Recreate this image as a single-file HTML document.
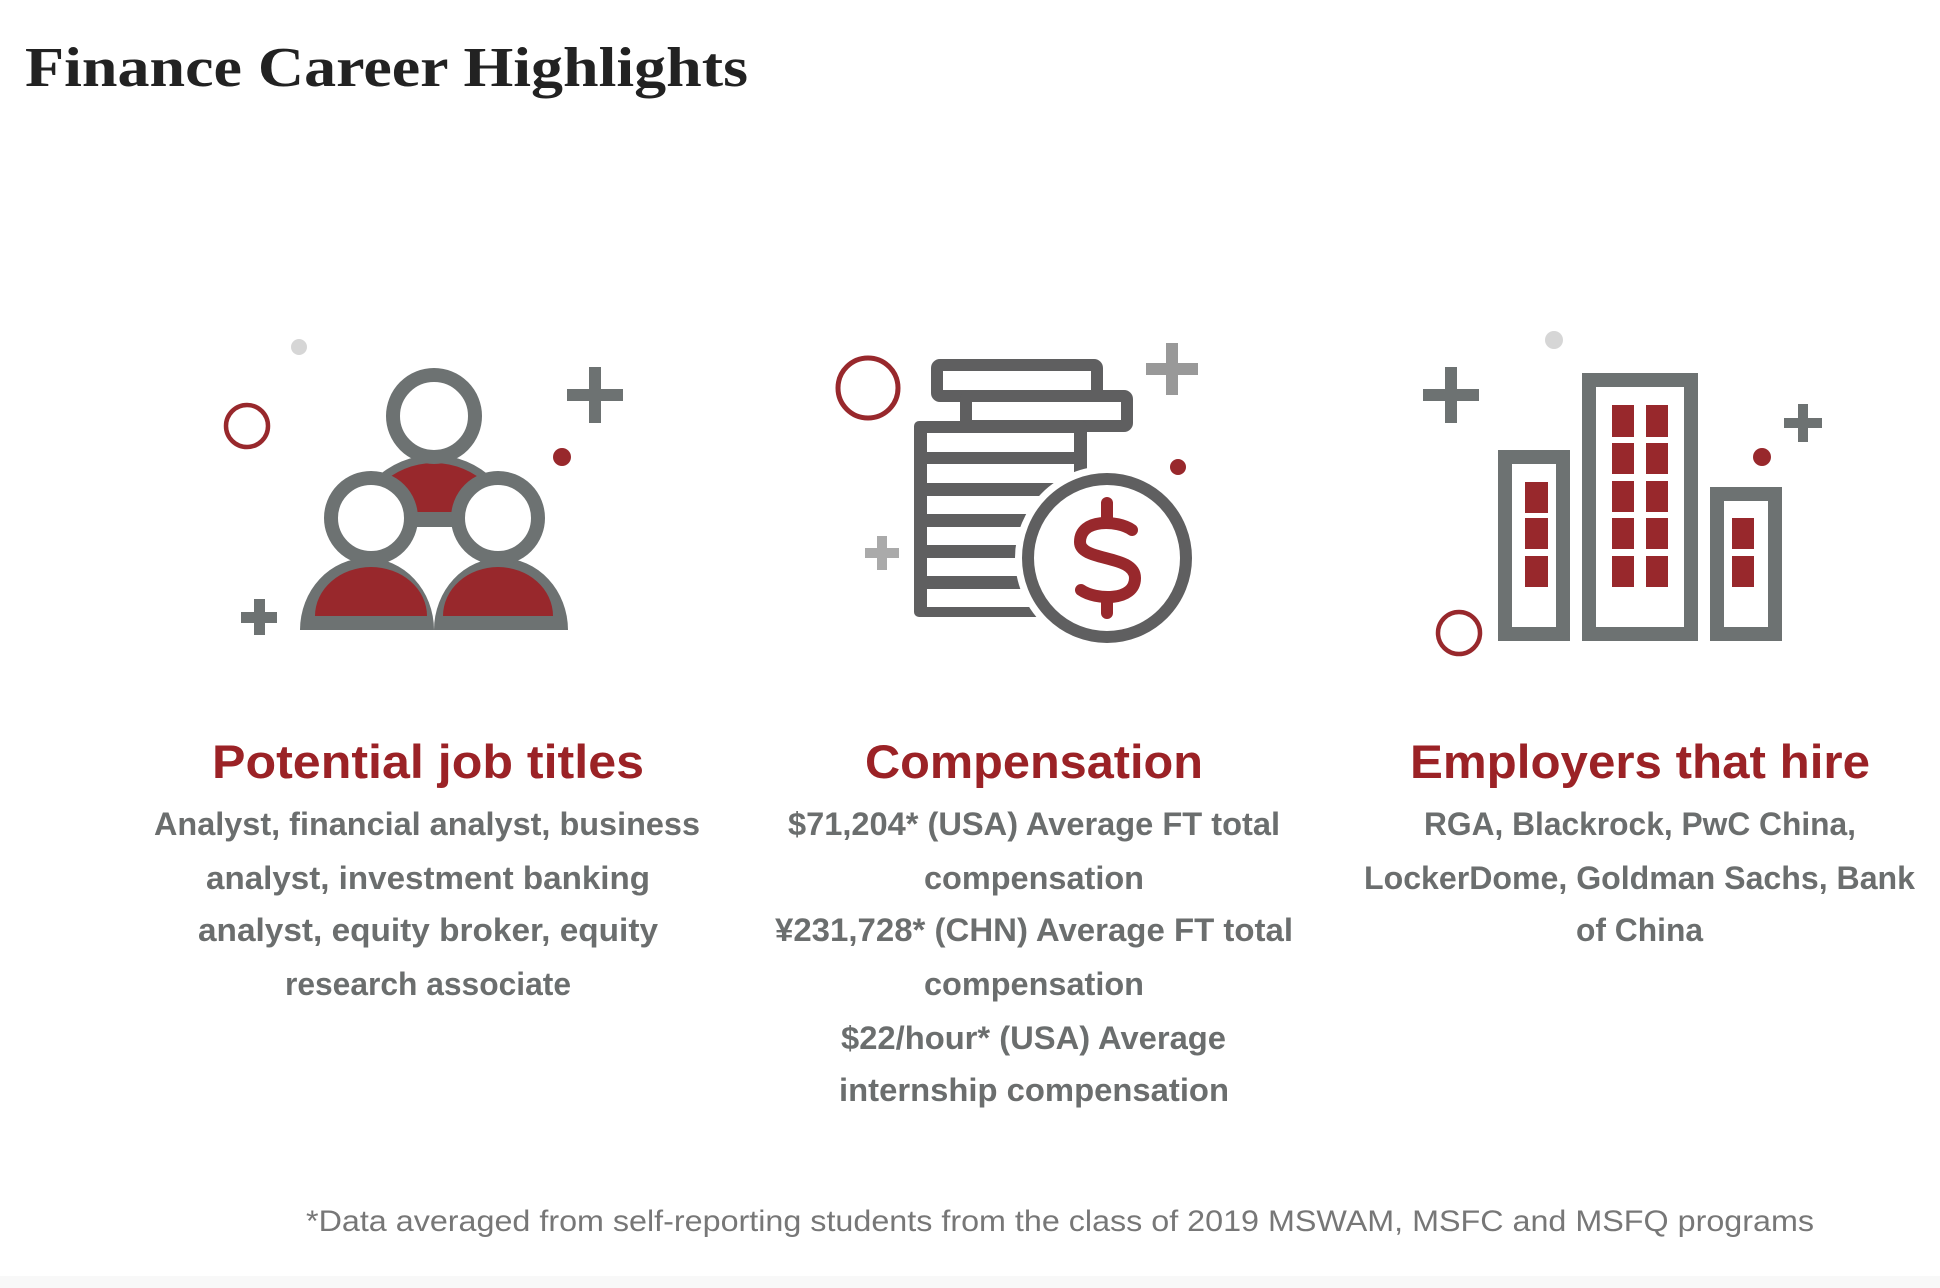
<!DOCTYPE html>
<html><head><meta charset="utf-8"><style>
html,body{margin:0;padding:0;background:#fff;}
svg{display:block;}
</style></head><body>
<svg width="1940" height="1288" viewBox="0 0 1940 1288" xmlns="http://www.w3.org/2000/svg">
<rect x="0" y="0" width="1940" height="1288" fill="#fff"/>
<rect x="0" y="1276" width="1940" height="12" fill="#f8f8f8"/>
<text x="25" y="86" font-family="Liberation Serif, serif" font-weight="bold" font-size="56" fill="#222" textLength="723" lengthAdjust="spacingAndGlyphs">Finance Career Highlights</text>

<!-- Icon 1 -->
<g>
<circle cx="299" cy="347" r="8" fill="#d6d6d6"/>
<circle cx="247" cy="426" r="21" fill="none" stroke="#98282c" stroke-width="4.5"/>
<rect x="567" y="389" width="56" height="12" fill="#6d7272"/><rect x="589" y="367" width="12" height="56" fill="#6d7272"/>
<circle cx="562" cy="457" r="9" fill="#98282c"/>
<rect x="241" y="612" width="36" height="11" fill="#6d7272"/><rect x="254" y="599" width="11" height="36" fill="#6d7272"/>
<!-- middle body -->
<clipPath id="c1"><rect x="300" y="400" width="270" height="127"/></clipPath>
<clipPath id="c2"><rect x="300" y="400" width="270" height="112"/></clipPath>
<circle cx="434" cy="540" r="85" fill="#6d7272" clip-path="url(#c1)"/>
<circle cx="434" cy="540" r="77" fill="#98282c" clip-path="url(#c2)"/>
<!-- bottom bodies -->
<path d="M300,630 A67,72 0 0 1 434,630 Z" fill="#6d7272"/>
<path d="M434,630 A67,72 0 0 1 568,630 Z" fill="#6d7272"/>
<path d="M315,616 A56,49 0 0 1 427,616 Z" fill="#98282c"/>
<path d="M443,616 A55,49 0 0 1 553,616 Z" fill="#98282c"/>
<!-- heads -->
<circle cx="434" cy="416" r="41" fill="#fff" stroke="#6d7272" stroke-width="14"/>
<circle cx="371" cy="518" r="40" fill="#fff" stroke="#6d7272" stroke-width="14"/>
<circle cx="498" cy="518" r="40" fill="#fff" stroke="#6d7272" stroke-width="14"/>
</g>

<!-- Icon 2 -->
<g>
<circle cx="868" cy="388" r="30" fill="none" stroke="#98282c" stroke-width="5"/>
<rect x="1146" y="363" width="52" height="12" fill="#999"/><rect x="1166" y="343" width="12" height="52" fill="#999"/>
<circle cx="1178" cy="467" r="8" fill="#98282c"/>
<rect x="865" y="548" width="34" height="10" fill="#aaa"/><rect x="877" y="536" width="10" height="34" fill="#aaa"/>
<rect x="937" y="365" width="160" height="31" rx="3" fill="#fff" stroke="#5f5f60" stroke-width="12"/>
<rect x="966" y="396" width="161" height="30" rx="3" fill="#fff" stroke="#5f5f60" stroke-width="12"/>
<rect x="914" y="421" width="173" height="196" rx="5" fill="#5f5f60"/>
<g fill="#fff">
<rect x="927" y="433" width="147" height="19"/>
<rect x="927" y="464" width="147" height="19"/>
<rect x="927" y="496" width="147" height="18"/>
<rect x="927" y="527" width="147" height="18"/>
<rect x="927" y="558" width="147" height="18"/>
<rect x="927" y="589" width="147" height="18"/>
</g>
<circle cx="1107" cy="558" r="92" fill="#fff"/>
<circle cx="1107" cy="558" r="79" fill="#fff" stroke="#5f5f60" stroke-width="12"/>
<g fill="none" stroke="#98282c" stroke-width="12" stroke-linecap="round">
<line x1="1107" y1="503" x2="1107" y2="519"/>
<line x1="1107" y1="598" x2="1107" y2="613"/>
<path d="M1132,530 C1118,520 1080,518 1080,542 C1080,562 1135,554 1135,578 C1135,602 1095,600 1081,590"/>
</g>
</g>

<!-- Icon 3 -->
<g>
<circle cx="1554" cy="340" r="9" fill="#d6d6d6"/>
<rect x="1423" y="389" width="56" height="12" fill="#6d7272"/><rect x="1445" y="367" width="12" height="56" fill="#6d7272"/>
<rect x="1784" y="418" width="38" height="10" fill="#6d7272"/><rect x="1798" y="404" width="10" height="38" fill="#6d7272"/>
<circle cx="1762" cy="457" r="9" fill="#98282c"/>
<circle cx="1459" cy="633" r="21" fill="none" stroke="#98282c" stroke-width="4.5"/>
<rect x="1505" y="457" width="58" height="177" fill="#fff" stroke="#6d7272" stroke-width="14"/>
<rect x="1589" y="380" width="102" height="254" fill="#fff" stroke="#6d7272" stroke-width="14"/>
<rect x="1717" y="494" width="58" height="140" fill="#fff" stroke="#6d7272" stroke-width="14"/>
<g fill="#98282c">
<rect x="1525" y="482" width="23" height="31"/><rect x="1525" y="518" width="23" height="31"/><rect x="1525" y="556" width="23" height="31"/>
<rect x="1612" y="405" width="22" height="32"/><rect x="1646" y="405" width="22" height="32"/>
<rect x="1612" y="443" width="22" height="31"/><rect x="1646" y="443" width="22" height="31"/>
<rect x="1612" y="481" width="22" height="31"/><rect x="1646" y="481" width="22" height="31"/>
<rect x="1612" y="518" width="22" height="31"/><rect x="1646" y="518" width="22" height="31"/>
<rect x="1612" y="556" width="22" height="31"/><rect x="1646" y="556" width="22" height="31"/>
<rect x="1732" y="518" width="22" height="31"/><rect x="1732" y="556" width="22" height="31"/>
</g>
</g>

<g font-family="Liberation Sans, sans-serif" font-weight="bold" lengthAdjust="spacingAndGlyphs">
<text x="212" y="778" font-size="47" fill="#9b2226" textLength="432" lengthAdjust="spacingAndGlyphs">Potential job titles</text>
<text x="865" y="778" font-size="47" fill="#9b2226" textLength="338" lengthAdjust="spacingAndGlyphs">Compensation</text>
<text x="1410" y="778" font-size="47" fill="#9b2226" textLength="460" lengthAdjust="spacingAndGlyphs">Employers that hire</text>
</g>
<g font-family="Liberation Sans, sans-serif" font-weight="bold" font-size="32" fill="#6b6e6e">
<text x="154" y="835" textLength="546" lengthAdjust="spacingAndGlyphs">Analyst, financial analyst, business</text>
<text x="206" y="889" textLength="444" lengthAdjust="spacingAndGlyphs">analyst, investment banking</text>
<text x="198" y="941" textLength="460" lengthAdjust="spacingAndGlyphs">analyst, equity broker, equity</text>
<text x="285" y="995" textLength="286" lengthAdjust="spacingAndGlyphs">research associate</text>

<text x="788" y="835" textLength="492" lengthAdjust="spacingAndGlyphs">$71,204* (USA) Average FT total</text>
<text x="924" y="889" textLength="220" lengthAdjust="spacingAndGlyphs">compensation</text>
<text x="775" y="941" textLength="518" lengthAdjust="spacingAndGlyphs">¥231,728* (CHN) Average FT total</text>
<text x="924" y="995" textLength="220" lengthAdjust="spacingAndGlyphs">compensation</text>
<text x="841" y="1049" textLength="385" lengthAdjust="spacingAndGlyphs">$22/hour* (USA) Average</text>
<text x="839" y="1101" textLength="390" lengthAdjust="spacingAndGlyphs">internship compensation</text>

<text x="1424" y="835" textLength="432" lengthAdjust="spacingAndGlyphs">RGA, Blackrock, PwC China,</text>
<text x="1364" y="889" textLength="551" lengthAdjust="spacingAndGlyphs">LockerDome, Goldman Sachs, Bank</text>
<text x="1576" y="941" textLength="127" lengthAdjust="spacingAndGlyphs">of China</text>
</g>
<text x="306" y="1231" font-family="Liberation Sans, sans-serif" font-size="30" fill="#777" textLength="1508" lengthAdjust="spacingAndGlyphs">*Data averaged from self-reporting students from the class of 2019 MSWAM, MSFC and MSFQ programs</text>
</svg>
</body></html>
